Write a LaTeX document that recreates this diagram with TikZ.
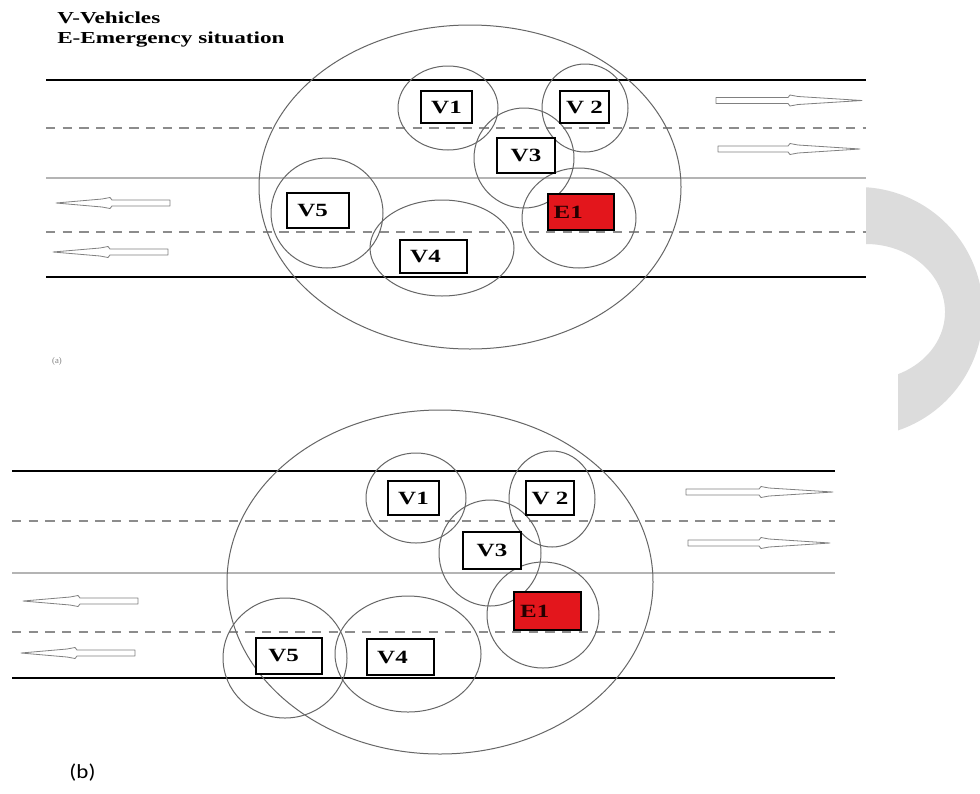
\documentclass[tikz,border=0pt]{standalone}
\usepackage{fontspec}
\usepackage{graphicx}
\setmainfont{Liberation Serif}
\newfontfamily\calib{Carlito}
\usetikzlibrary{shapes.geometric}
\definecolor{ringgray}{HTML}{666666}
\definecolor{dashgray}{HTML}{8C8C8C}
\definecolor{midgray}{HTML}{B4B4B4}
\definecolor{arrgray}{HTML}{808080}
\definecolor{wmgray}{HTML}{DCDCDC}
\definecolor{emred}{HTML}{E3161C}
\newcommand{\lab}[1]{\scalebox{1.34}[1]{\fontsize{14}{15}\selectfont\bfseries #1}}
\newcommand{\ttl}[1]{\scalebox{1.38}[1]{\fontsize{12.6}{14}\selectfont\bfseries #1}}
\newcommand{\gap}[1]{\rule{#1}{0pt}}
% right-pointing hollow arrow: y, tail, junction, tip
\newcommand{\rarr}[4]{%
  \draw[hollowarrow] (#2,{#1-3}) -- (#3,{#1-3}) -- ({#3+2},{#1-5.5}) -- ({#3+10},{#1-4}) -- (#4,#1)
    -- ({#3+10},{#1+4}) -- ({#3+2},{#1+5.5}) -- (#3,{#1+3}) -- (#2,{#1+3}) -- cycle;}
% left-pointing hollow arrow: y, tip, junction, tail
\newcommand{\larr}[4]{%
  \draw[hollowarrow] (#4,{#1-3}) -- (#3,{#1-3}) -- ({#3-2},{#1-5.5}) -- ({#3-10},{#1-4}) -- (#2,#1)
    -- ({#3-10},{#1+4}) -- ({#3-2},{#1+5.5}) -- (#3,{#1+3}) -- (#4,{#1+3}) -- cycle;}
\begin{document}
\begin{tikzpicture}[x=0.75pt,y=-0.75pt,
  edgeline/.style={draw=black, line width=2.2pt},
  lanedash/.style={draw=dashgray, line width=0.8pt, dash pattern=on 7pt off 5.5pt},
  midline/.style={draw=midgray, line width=1.4pt},
  ring/.style={ellipse, draw=ringgray, line width=0.75pt, inner sep=0pt, outer sep=0pt},
  vbox/.style={rectangle, draw=black, line width=1.5pt, fill=white, inner sep=0pt, outer sep=0pt},
  ebox/.style={vbox, fill=emred, text=black!85!red},
  hollowarrow/.style={draw=arrgray, line width=0.6pt, fill=white, line join=round},
  wm/.style={fill=wmgray}
]
\useasboundingbox (0,0) rectangle (980,793);
\fill[white] (0,0) rectangle (980,793);

% watermark
\fill[wm] plot[domain=-86.3:71.3,samples=80] ({858+125*cos(\x)},{312+125*sin(\x)})
  -- plot[domain=66.1:-90,samples=80] ({866+79*cos(\x)},{312+68*sin(\x)}) -- cycle;

% legend
\node[anchor=base west, inner sep=0pt] (leg1) at (57,23) {\ttl{V-Vehicles}};
\node[anchor=base west, inner sep=0pt] (leg2) at (57,43.5) {\ttl{E-Emergency situation}};

% ================= panel (a) =================
\coordinate (aL1) at (46,80);  \coordinate (aR1) at (866,80);
\coordinate (aL2) at (46,128); \coordinate (aR2) at (866,128);
\coordinate (aL3) at (46,178); \coordinate (aR3) at (866,178);
\coordinate (aL4) at (46,232); \coordinate (aR4) at (866,232);
\coordinate (aL5) at (46,277); \coordinate (aR5) at (866,277);
\draw[edgeline] (aL1) -- (aR1);
\draw[lanedash] (aL2) -- (aR2);
\draw[midline] (aL3) -- (aR3);
\draw[lanedash] (aL4) -- (aR4);
\draw[edgeline] (aL5) -- (aR5);

\rarr{100.5}{716}{788}{862}
\rarr{149}{718}{788}{860}
\larr{203}{56}{112}{170}
\larr{252}{53}{110}{168}

\node[ring, minimum width={2*211*0.75pt}, minimum height={2*162*0.75pt}] (abig) at (470,187) {};
\node[ring, minimum width={2*50*0.75pt}, minimum height={2*42*0.75pt}] (ac1) at (448,108) {};
\node[ring, minimum width={2*43*0.75pt}, minimum height={2*44*0.75pt}] (ac2) at (585,108) {};
\node[ring, minimum width={2*50*0.75pt}, minimum height={2*50*0.75pt}] (ac3) at (524,158) {};
\node[ring, minimum width={2*57*0.75pt}, minimum height={2*50*0.75pt}] (ace) at (579,218) {};
\node[ring, minimum width={2*72*0.75pt}, minimum height={2*48*0.75pt}] (ac4) at (442,248) {};
\node[ring, minimum width={2*56*0.75pt}, minimum height={2*55*0.75pt}] (ac5) at (327,213) {};

\node[vbox, minimum width={51*0.75pt}, minimum height={32*0.75pt}] (av1) at (446.5,107) {\lab{V1}};
\node[vbox, minimum width={49*0.75pt}, minimum height={32*0.75pt}] (av2) at (584.5,107) {\lab{V 2}};
\node[vbox, minimum width={58*0.75pt}, minimum height={35*0.75pt}] (av3) at (526,155.5) {\lab{V3}};
\node[ebox, minimum width={66*0.75pt}, minimum height={36*0.75pt}] (ae1) at (581,212) {\lab{E1}\gap{19pt}};
\node[vbox, minimum width={67*0.75pt}, minimum height={33*0.75pt}] (av4) at (433.5,256.5) {\lab{V4}\gap{12pt}};
\node[vbox, minimum width={62*0.75pt}, minimum height={35*0.75pt}] (av5) at (318,210.5) {\lab{V5}\gap{8pt}};

\node[inner sep=0pt, text=gray] (acap) at (57,361) {\fontsize{6.5}{7}\selectfont (a)};

% ================= panel (b) =================
\coordinate (bL1) at (12,471); \coordinate (bR1) at (835,471);
\coordinate (bL2) at (12,521); \coordinate (bR2) at (835,521);
\coordinate (bL3) at (12,573); \coordinate (bR3) at (835,573);
\coordinate (bL4) at (12,632); \coordinate (bR4) at (835,632);
\coordinate (bL5) at (12,678); \coordinate (bR5) at (835,678);
\draw[edgeline] (bL1) -- (bR1);
\draw[lanedash] (bL2) -- (bR2);
\draw[midline] (bL3) -- (bR3);
\draw[lanedash] (bL4) -- (bR4);
\draw[edgeline] (bL5) -- (bR5);

\rarr{492}{686}{759}{833}
\rarr{543}{688}{759}{830}
\larr{601}{23}{80}{138}
\larr{653}{21}{77}{135}

\node[ring, minimum width={2*213*0.75pt}, minimum height={2*172*0.75pt}] (bbig) at (440,582) {};
\node[ring, minimum width={2*50*0.75pt}, minimum height={2*45*0.75pt}] (bc1) at (416,498) {};
\node[ring, minimum width={2*43*0.75pt}, minimum height={2*48*0.75pt}] (bc2) at (552,499) {};
\node[ring, minimum width={2*51*0.75pt}, minimum height={2*53*0.75pt}] (bc3) at (490,553) {};
\node[ring, minimum width={2*56*0.75pt}, minimum height={2*53*0.75pt}] (bce) at (543,615) {};
\node[ring, minimum width={2*73*0.75pt}, minimum height={2*58*0.75pt}] (bc4) at (408,654) {};
\node[ring, minimum width={2*62*0.75pt}, minimum height={2*60*0.75pt}] (bc5) at (285,658) {};

\node[vbox, minimum width={51*0.75pt}, minimum height={34*0.75pt}] (bv1) at (413.5,498) {\lab{V1}};
\node[vbox, minimum width={48*0.75pt}, minimum height={34*0.75pt}] (bv2) at (550,498) {\lab{V 2}};
\node[vbox, minimum width={58*0.75pt}, minimum height={37*0.75pt}] (bv3) at (492,550.5) {\lab{V3}};
\node[ebox, minimum width={67*0.75pt}, minimum height={38*0.75pt}] (be1) at (547.5,611) {\lab{E1}\gap{19pt}};
\node[vbox, minimum width={67*0.75pt}, minimum height={36*0.75pt}] (bv4) at (400.5,657) {\lab{V4}\gap{12pt}};
\node[vbox, minimum width={66*0.75pt}, minimum height={36*0.75pt}] (bv5) at (289,656) {\lab{V5}\gap{8pt}};

\node[inner sep=0pt] (bcap) at (82.5,772.5) {\scalebox{1.15}[1]{\calib\fontsize{15}{16}\selectfont (b)}};
\end{tikzpicture}
\end{document}
